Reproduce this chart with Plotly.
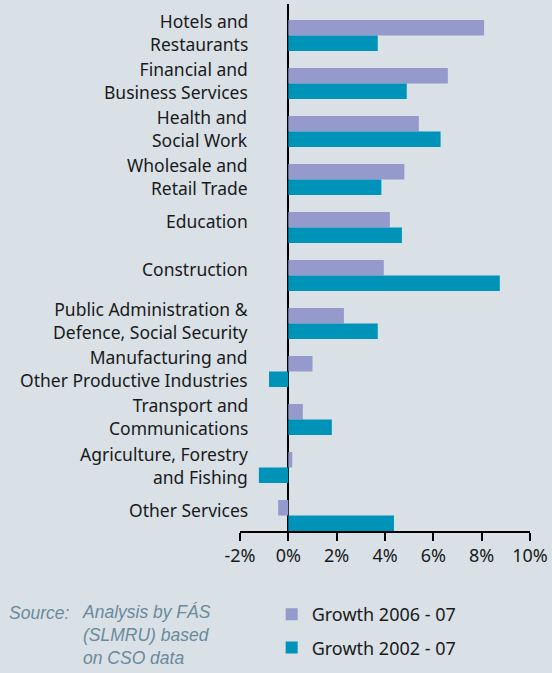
import plotly.graph_objects as go

categories = [
    "Hotels and<br>Restaurants",
    "Financial and<br>Business Services",
    "Health and<br>Social Work",
    "Wholesale and<br>Retail Trade",
    "Education",
    "Construction",
    "Public Administration &<br>Defence, Social Security",
    "Manufacturing and<br>Other Productive Industries",
    "Transport and<br>Communications",
    "Agriculture, Forestry<br>and Fishing",
    "Other Services",
]
growth_2006_07 = [8.1, 6.6, 5.4, 4.8, 4.2, 3.95, 2.3, 1.0, 0.6, 0.16, -0.42]
growth_2002_07 = [3.7, 4.9, 6.3, 3.85, 4.7, 8.75, 3.7, -0.8, 1.8, -1.22, 4.37]
tick_values = [-2, 0, 2, 4, 6, 8, 10]
tick_labels = ["-2%", "0%", "2%", "4%", "6%", "8%", "10%"]

BG = "#d9e1e7"
PURPLE = "#9599cb"
TEAL = "#0093b9"
FONT = "Noto Sans"
FS = 18

fig = go.Figure()
fig.add_trace(go.Bar(y=categories, x=growth_2006_07, orientation="h", legendgroup="a",
                     name="Growth 2006 - 07", marker_color=PURPLE, marker_line_width=0))
fig.add_trace(go.Bar(y=categories, x=growth_2002_07, orientation="h", legendgroup="b",
                     name="Growth 2002 - 07", marker_color=TEAL, marker_line_width=0))

label_font = dict(family=FONT, size=17.5, color="#1a1a1a")
for c in categories:
    s = 6 if "<br>" not in c else 2.5
    fig.add_annotation(x=(250 - 240) / 293, xref="paper", y=c, yref="y", text=c,
                       xanchor="right", yanchor="middle", showarrow=False,
                       align="right", yshift=s, font=label_font)

src_font = dict(family="Liberation Sans", size=17.5, color="#6a8a9b", style="italic")
fig.add_annotation(xref="paper", yref="paper", x=(5 - 240) / 293, y=-(613 - 531) / 527,
                   text="<i>Source:</i>", showarrow=False, xanchor="left",
                   yanchor="middle", font=src_font)
fig.add_annotation(xref="paper", yref="paper", x=(78 - 240) / 293, y=-(600 - 531) / 527,
                   text="<i>Analysis by FÁS<br>(SLMRU) based<br>on CSO data</i>",
                   showarrow=False, xanchor="left", yanchor="top", align="left",
                   font=src_font)

fig.update_layout(
    width=552, height=673,
    margin=dict(l=240, r=19, t=4, b=142),
    paper_bgcolor=BG, plot_bgcolor=BG,
    barmode="group", bargap=0.354, bargroupgap=0,
    font=dict(family=FONT, size=FS, color="#1a1a1a"),
    showlegend=True,
    legend=dict(x=(272 - 240) / 293, y=-(596 - 531) / 527, xanchor="left", yanchor="top",
                bgcolor="rgba(0,0,0,0)", font=dict(family=FONT, size=FS, color="#1a1a1a"),
                traceorder="grouped", tracegroupgap=7),
    xaxis=dict(range=[-2, 10], tickvals=tick_values, ticktext=tick_labels,
               showgrid=False, zeroline=True, zerolinecolor="#000000", zerolinewidth=1.5,
               showline=True, linecolor="#000000", linewidth=1.5,
               ticks="outside", ticklen=8, tickwidth=1.5, tickcolor="#000000",
               tickfont=dict(family=FONT, size=FS, color="#1a1a1a")),
    yaxis=dict(categoryorder="array", categoryarray=categories,
               range=[10.323, -0.656], showticklabels=False, showgrid=False,
               zeroline=False, showline=False, ticks=""),
)

fig.write_html("out.html", config={"displayModeBar": False},
               post_script="document.body.style.margin='0';")
